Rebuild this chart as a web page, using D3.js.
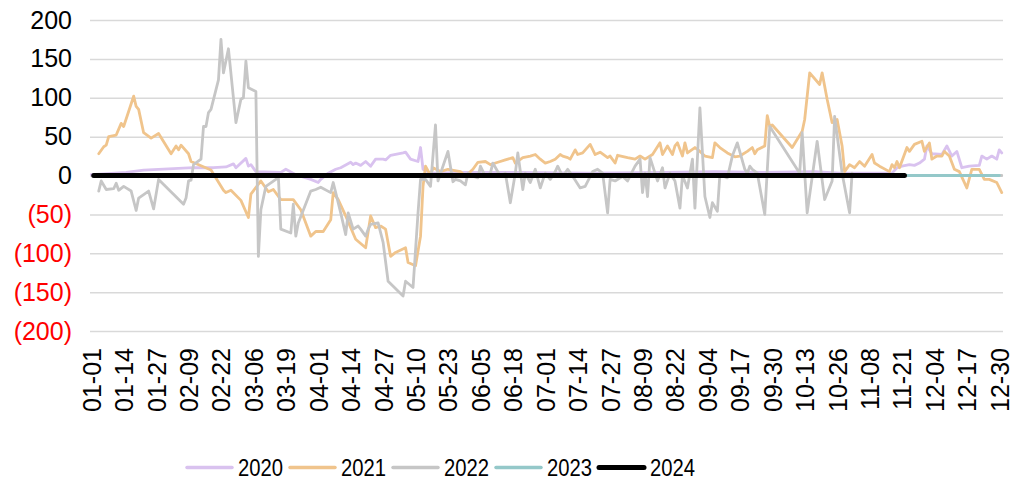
<!DOCTYPE html>
<html>
<head>
<meta charset="utf-8">
<script src="https://cdn.jsdelivr.net/npm/d3@7/dist/d3.min.js"></script>
<style>
  html, body { margin: 0; padding: 0; background: #ffffff; }
  svg { display: block; }
  text { font-family: "Liberation Sans", Arial, sans-serif; }
</style>
</head>
<body>
<svg id="chart" width="1012" height="480"></svg>
<script>
// Calendar axis: every day of a leap year, labelled MM-DD
const monthLengths = [31, 29, 31, 30, 31, 30, 31, 31, 30, 31, 30, 31];
const categories = [];
monthLengths.forEach((n, m) => {
  for (let d = 1; d <= n; d++) {
    categories.push(String(m + 1).padStart(2, "0") + "-" + String(d).padStart(2, "0"));
  }
});

// Tick labels shown on the date axis
const xTickLabels = ["01-01","01-14","01-27","02-09","02-22","03-06","03-19","04-01","04-14","04-27",
  "05-10","05-23","06-05","06-18","07-01","07-14","07-27","08-09","08-22","09-04","09-17","09-30",
  "10-13","10-26","11-08","11-21","12-04","12-17","12-30"];
const yTicks = [-200, -150, -100, -50, 0, 50, 100, 150, 200];

const years = ["2020", "2021", "2022", "2023", "2024"];

// Daily values (trading days only) for each year
const values2020 = [
  ["01-01",1],["01-06",2],["01-15",4],["01-22",7],["02-11",10],["02-19",10],["02-24",11],["02-27",15],
  ["02-28",10],["03-03",22],["03-04",12],["03-05",14],["03-07",5],["03-17",4],["03-19",8],["03-23",1],
  ["03-29",-5],["04-01",-9],["04-02",-5],["04-05",3],["04-08",8],["04-10",10],["04-14",17],["04-15",14],
  ["04-16",16],["04-18",13],["04-20",18],["04-22",12],["04-24",21],["04-27",21],["04-28",20],["04-30",26],
  ["05-05",29],["05-06",30],["05-08",21],["05-11",18],["05-12",36],["05-13",8],["05-16",3],["05-30",4],
  ["06-19",4],["07-19",3],["08-18",4],["09-07",5],["09-27",4],["10-17",5],["10-27",3],["11-16",3],
  ["11-17",3],["11-19",10],["11-21",12],["11-24",14],["11-26",13],["11-28",16],["11-30",21],["12-01",38],
  ["12-03",28],["12-07",27],["12-09",38],["12-11",25],["12-13",31],["12-15",10],["12-18",12],["12-22",13],
  ["12-23",25],["12-25",21],["12-27",25],["12-29",21],["12-30",33],["12-31",29]
];
const values2021 = [
  ["01-04",28],["01-06",37],["01-07",39],["01-08",50],["01-11",52],["01-13",67],["01-14",63],["01-18",102],
  ["01-19",89],["01-20",85],["01-22",55],["01-25",48],["01-28",54],["02-02",28],["02-04",38],["02-05",33],
  ["02-06",39],["02-09",28],["02-10",18],["02-18",7],["02-23",-19],["02-24",-22],["02-26",-19],["03-01",-32],
  ["03-04",-54],["03-05",-24],["03-09",-7],["03-12",-21],["03-14",-18],["03-17",-31],["03-22",-31],
  ["03-25",-44],["03-29",-78],["03-31",-72],["04-03",-72],["04-06",-57],["04-07",-22],["04-09",-31],
  ["04-12",-52],["04-16",-82],["04-20",-93],["04-22",-52],["04-24",-67],["04-26",-65],["04-28",-69],
  ["04-30",-104],["05-02",-99],["05-06",-93],["05-07",-112],["05-10",-116],["05-12",-78],["05-13",-14],
  ["05-14",12],["05-16",0],["05-17",10],["05-20",5],["05-23",8],["05-28",5],["05-30",-1],["06-02",8],
  ["06-04",17],["06-07",18],["06-09",14],["06-12",17],["06-15",20],["06-18",23],["06-19",16],["06-22",23],
  ["06-25",25],["06-27",27],["06-29",21],["07-01",16],["07-03",18],["07-05",21],["07-07",27],["07-08",25],
  ["07-10",23],["07-11",21],["07-13",33],["07-14",27],["07-16",29],["07-19",40],["07-21",27],["07-23",30],
  ["07-26",23],["07-27",25],["07-29",16],["07-30",26],["08-03",23],["08-06",21],["08-08",25],["08-10",21],
  ["08-13",27],["08-16",42],["08-17",27],["08-19",38],["08-21",27],["08-22",38],["08-23",42],["08-25",25],
  ["08-26",42],["08-27",29],["08-30",36],["09-01",31],["09-03",25],["09-06",23],["09-07",42],["09-09",36],
  ["09-12",29],["09-15",24],["09-17",25],["09-20",31],["09-22",36],["09-23",28],["09-24",33],["09-27",38],
  ["09-28",77],["09-29",63],["09-30",65],["10-08",36],["10-12",57],["10-13",72],["10-15",132],["10-19",117],
  ["10-20",132],["10-22",98],["10-24",68],["10-26",72],["10-28",38],["10-29",5],["10-31",14],["11-02",10],
  ["11-04",18],["11-06",12],["11-09",27],["11-10",16],["11-12",12],["11-16",5],["11-17",14],["11-18",10],
  ["11-19",18],["11-20",10],["11-23",36],["11-24",31],["11-26",40],["11-29",44],["11-30",31],["12-02",42],
  ["12-03",21],["12-05",25],["12-07",25],["12-08",31],["12-10",25],["12-12",8],["12-14",5],["12-17",-16],
  ["12-19",8],["12-22",8],["12-24",-5],["12-26",-5],["12-29",-9],["12-31",-22]
];
const values2022 = [
  ["01-04",-20],["01-05",-7],["01-07",-18],["01-10",-17],["01-11",-10],["01-12",-19],["01-14",-14],
  ["01-17",-20],["01-19",-45],["01-20",-29],["01-24",-20],["01-26",-43],["01-28",-5],["02-07",-37],
  ["02-08",-29],["02-09",-7],["02-10",-6],["02-11",14],["02-14",21],["02-15",63],["02-16",63],["02-17",81],
  ["02-18",85],["02-21",123],["02-22",175],["02-23",132],["02-25",163],["02-28",68],["03-01",98],
  ["03-02",100],["03-03",147],["03-04",113],["03-07",108],["03-08",-104],["03-09",-44],["03-11",-14],
  ["03-15",-5],["03-16",-1],["03-17",-69],["03-21",-74],["03-22",-37],["03-23",-78],["03-24",-61],
  ["03-29",-20],["03-31",-18],["04-02",-15],["04-06",-22],["04-07",-9],["04-10",-48],["04-12",-76],
  ["04-13",-48],["04-15",-69],["04-17",-65],["04-18",-69],["04-20",-78],["04-21",-69],["04-22",-63],
  ["04-25",-61],["04-27",-86],["04-29",-136],["05-05",-155],["05-06",-136],["05-09",-144],["05-11",-48],
  ["05-12",-5],["05-14",-5],["05-16",-14],["05-18",65],["05-19",-7],["05-23",31],["05-25",-8],["05-26",-5],
  ["05-28",-7],["05-30",-12],["05-31",3],["06-02",-1],["06-04",-3],["06-05",12],["06-07",-1],["06-09",3],
  ["06-10",16],["06-13",-1],["06-15",3],["06-17",-35],["06-19",3],["06-20",29],["06-22",-18],["06-23",3],
  ["06-25",-9],["06-27",8],["06-29",-16],["07-01",3],["07-03",-5],["07-05",5],["07-06",12],["07-08",-1],
  ["07-10",8],["07-12",-1],["07-15",-16],["07-17",-14],["07-20",5],["07-22",8],["07-24",3],["07-26",-48],
  ["07-27",-5],["07-29",-7],["08-01",-1],["08-03",-7],["08-06",12],["08-08",21],["08-09",-22],["08-10",3],
  ["08-11",-27],["08-12",23],["08-15",-7],["08-17",10],["08-18",-16],["08-20",3],["08-22",-7],["08-24",-42],
  ["08-25",0],["08-27",-16],["08-29",21],["08-30",-42],["09-01",87],["09-03",-27],["09-05",-54],
  ["09-06",-35],["09-08",-46],["09-09",1],["09-12",-3],["09-14",25],["09-16",42],["09-19",8],["09-20",3],
  ["09-21",12],["09-22",8],["09-24",3],["09-27",-50],["09-29",63],["10-11",3],["10-12",55],["10-14",-48],
  ["10-18",44],["10-21",-31],["10-24",-7],["10-25",76],["10-28",3],["10-31",-48],["11-01",3],["11-02",0],
  ["12-31",0]
];
const values2023 = [["01-03",0],["06-30",0],["12-30",0]];
const values2024 = [["01-02",0],["06-30",0],["11-22",0]];

const seriesValues = [values2020, values2021, values2022, values2023, values2024];
const seriesColors = ["#d9c2ef", "#f0c48c", "#c6c6c6", "#94c8c9", "#000000"];
const seriesWidths = [2.8, 2.8, 2.8, 2.8, 5];

const svg = d3.select("#chart");
const plot = { left: 90, right: 1003, top: 20, bottom: 331 };

const x = d3.scalePoint().domain(categories).range([plot.left, plot.right]).padding(0.5);
const y = d3.scaleLinear().domain([-200, 200]).range([plot.bottom, plot.top]);

const fmt = v => v < 0 ? "(" + Math.abs(v) + ")" : String(v);

// Value axis with full-width gridlines
const yAxis = svg.append("g")
  .attr("transform", `translate(${plot.left},0)`)
  .call(d3.axisLeft(y).tickValues(yTicks).tickFormat(fmt)
    .tickSize(-(plot.right - plot.left)).tickPadding(18));
yAxis.select(".domain").remove();
yAxis.selectAll(".tick line").attr("stroke", "#d9d9d9").attr("stroke-width", 1.5);
yAxis.selectAll(".tick text")
  .attr("font-size", 25)
  .attr("font-family", "Liberation Sans, Arial, sans-serif")
  .attr("fill", d => d < 0 ? "#ff0000" : "#000000");

// Date axis with vertical labels
const xAxis = svg.append("g")
  .attr("transform", `translate(0,${plot.bottom})`)
  .call(d3.axisBottom(x).tickValues(xTickLabels).tickSize(0));
xAxis.select(".domain").remove();
xAxis.selectAll(".tick text")
  .attr("font-size", 25)
  .attr("font-family", "Liberation Sans, Arial, sans-serif")
  .attr("fill", "#000000")
  .attr("transform", "rotate(-90)")
  .attr("text-anchor", "end")
  .attr("x", -17)
  .attr("y", 0)
  .attr("dy", "0.36em");

// Year lines
const line = d3.line().x(d => x(d[0])).y(d => y(d[1]));
const lines = svg.append("g");
seriesValues.forEach((vals, i) => {
  lines.append("path")
    .datum(vals)
    .attr("d", line)
    .attr("fill", "none")
    .attr("stroke", seriesColors[i])
    .attr("stroke-width", seriesWidths[i])
    .attr("stroke-linejoin", "round")
    .attr("stroke-linecap", "round");
});

// Legend
const legend = svg.append("g").attr("transform", "translate(187,467.5)");
years.forEach((yr, i) => {
  const g = legend.append("g").attr("transform", `translate(${i * 103},0)`);
  g.append("line")
    .attr("x1", 0).attr("x2", 45).attr("y1", 0).attr("y2", 0)
    .attr("stroke", seriesColors[i])
    .attr("stroke-width", i === 4 ? 5 : 3.5)
    .attr("stroke-linecap", "round");
  g.append("text")
    .attr("x", 51).attr("y", 8.5)
    .attr("font-size", 23.5)
    .attr("textLength", 45)
    .attr("lengthAdjust", "spacingAndGlyphs")
    .attr("fill", "#000000")
    .text(yr);
});
</script>
</body>
</html>
